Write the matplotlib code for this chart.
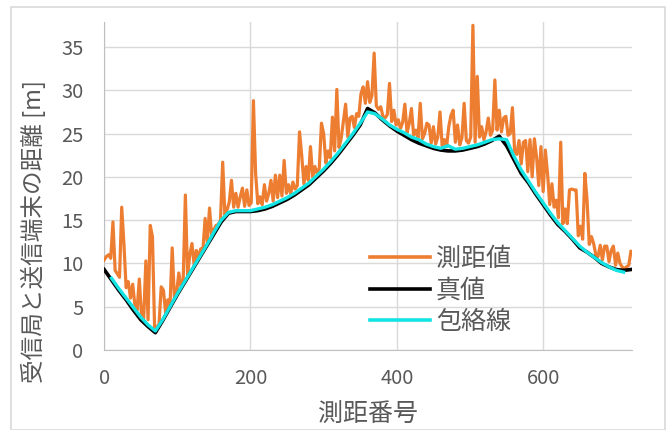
import numpy as np
import matplotlib
matplotlib.use("Agg")
import matplotlib.pyplot as plt
from matplotlib.patches import Rectangle

plt.rcParams['font.family'] = ['Noto Sans CJK JP', 'DejaVu Sans']

# 測距値 (3サンプルごと, 0〜720)
meas_step = 3
measured = [
    10.4, 10.8, 11.0, 10.6, 14.8, 9.2, 8.8, 8.4, 16.5, 12.3,
    7.2, 7.9, 6.0, 7.6, 5.2, 4.6, 8.2, 4.0, 3.6, 10.3,
    3.5, 14.4, 13.1, 2.3, 2.6, 3.0, 7.3, 6.9, 4.3, 5.8,
    5.2, 11.8, 6.0, 6.6, 8.9, 7.4, 8.0, 17.9, 8.6, 11.0,
    12.3, 9.8, 11.5, 10.6, 11.7, 11.6, 15.2, 12.4, 16.4, 13.2,
    13.9, 14.4, 14.5, 15.0, 21.7, 15.6, 16.2, 17.1, 19.6, 16.5,
    18.1, 16.5, 17.7, 18.7, 16.6, 18.5, 16.7, 17.0, 28.8, 20.4,
    16.9, 17.7, 16.8, 19.1, 17.2, 18.1, 19.6, 17.2, 20.2, 17.6,
    20.2, 17.8, 21.9, 18.1, 19.1, 18.0, 19.4, 18.6, 19.0, 25.2,
    22.5, 19.2, 21.2, 19.6, 23.5, 20.0, 21.2, 20.4, 21.0, 26.2,
    25.0, 21.6, 23.0, 22.2, 26.9, 23.0, 30.1, 23.4, 24.5, 26.5,
    28.4, 24.6, 26.8, 27.0, 25.7, 27.3, 27.0, 29.6, 30.4, 28.5,
    31.0, 28.6, 29.4, 34.3, 28.2, 27.8, 28.1, 27.0, 26.8, 27.2,
    30.8, 26.4, 27.7, 26.0, 26.6, 25.6, 26.3, 28.4, 25.1, 26.2,
    27.9, 24.8, 25.4, 24.5, 28.5, 24.4, 25.0, 26.2, 26.0, 23.9,
    25.8, 23.8, 24.6, 27.5, 23.6, 24.3, 23.5, 25.8, 27.1, 27.7,
    24.0, 26.0, 23.7, 24.5, 28.5, 24.2, 23.9, 24.6, 37.5, 24.0,
    31.6, 24.6, 25.8, 24.3, 25.2, 26.8, 24.8, 25.4, 31.2, 25.4,
    27.7, 25.2, 26.8, 27.0, 24.8, 25.0, 28.0, 23.0, 22.6, 24.2,
    21.5, 24.0, 24.2, 20.6, 24.3, 20.0, 24.4, 22.3, 19.0, 23.5,
    18.3, 23.1, 20.4, 16.8, 19.2, 16.5, 17.3, 15.3, 24.0, 14.6,
    16.3, 14.6, 18.5, 18.6, 18.5, 18.5, 13.2, 14.3, 12.8, 20.4,
    17.3, 12.2, 13.1, 12.3, 11.0, 10.8, 12.1, 10.4, 12.0, 12.0,
    10.2, 11.5, 12.0, 9.8, 11.2, 10.0, 9.6, 9.4, 9.6, 9.8,
    11.4,
]

# 真値 (10サンプルごと, 0〜720)
true_step = 10
true_val = [
    9.3, 8.1, 6.9, 5.8, 4.6, 3.5, 2.7, 2.0, 3.4, 4.9,
    6.4, 7.8, 9.2, 10.6, 12.0, 13.4, 14.8, 15.8, 16.0, 16.0,
    16.0, 16.1, 16.3, 16.6, 17.0, 17.4, 17.9, 18.5, 19.1, 19.9,
    20.7, 21.6, 22.6, 23.7, 24.8, 26.0, 27.9, 27.4, 26.6, 25.9,
    25.3, 24.8, 24.3, 23.9, 23.6, 23.3, 23.1, 23.0, 23.0, 23.1,
    23.3, 23.5, 23.8, 24.2, 24.7, 23.6, 22.0, 20.4, 19.3, 18.0,
    16.8, 15.6, 14.5, 13.7, 12.8, 11.8, 11.3, 10.7, 10.0, 9.6,
    9.3, 9.2, 9.3,
]

# 包絡線 (10〜710)
env_start = 10
envelope = [
    8.3, 7.1, 6.0, 4.9, 3.8, 2.9, 2.2, 3.5, 5.0,
    6.5, 7.9, 9.3, 10.7, 12.1, 13.6, 15.0, 15.9, 16.1, 16.1,
    16.1, 16.3, 16.5, 16.8, 17.2, 17.6, 18.1, 18.7, 19.3, 20.1,
    20.9, 21.8, 22.8, 23.9, 25.0, 26.2, 27.5, 27.3, 26.7, 26.0,
    25.5, 25.1, 24.6, 24.3, 23.8, 23.5, 23.3, 23.6, 23.2, 23.3,
    23.5, 23.7, 24.0, 24.3, 24.4, 24.3, 22.4, 20.8, 19.5, 18.2,
    17.0, 15.8, 14.7, 13.8, 12.9, 12.0, 11.3, 10.7, 10.1, 9.6,
    9.2, 9.0,
]

x_meas = np.arange(len(measured)) * meas_step
x_true = np.arange(len(true_val)) * true_step
x_env = env_start + np.arange(len(envelope)) * true_step

txt_color = '#595959'
grid_color = '#D9D9D9'

fig = plt.figure(figsize=(6.72, 4.30), dpi=100)
fig.patches.append(Rectangle((0.016, 0.0), 0.974, 0.984, transform=fig.transFigure,
                             fill=False, edgecolor=grid_color, linewidth=1.2))
ax = fig.add_axes([0.155, 0.186, 0.785, 0.763])

ax.plot(x_meas, measured, color='#ED7D31', linewidth=2.3, label='測距値', zorder=3)
ax.plot(x_true, true_val, color='black', linewidth=2.6, label='真値', zorder=4)
ax.plot(x_env, envelope, color='#14E3E3', linewidth=2.4, label='包絡線', zorder=5)

ax.set_xlim(0, 721)
ax.set_ylim(0, 37.9)
ax.set_xticks([0, 200, 400, 600])
ax.set_yticks(range(0, 40, 5))
ax.grid(True, color=grid_color, linewidth=1.0)
ax.set_axisbelow(True)
for side in ['top', 'right']:
    ax.spines[side].set_visible(False)
for side in ['left', 'bottom']:
    ax.spines[side].set_color('#BFBFBF')
ax.tick_params(length=0, labelsize=14.5, labelcolor=txt_color)
ax.tick_params(axis='x', pad=13)
ax.tick_params(axis='y', pad=15)

ax.set_xlabel('測距番号', fontsize=18, color=txt_color)
ax.xaxis.set_label_coords(0.5, -0.158)
ax.set_ylabel('受信局と送信端末の距離 [m]', fontsize=17, color=txt_color)
ax.yaxis.set_label_coords(-0.11, 0.36)

leg = ax.legend(loc='upper left', bbox_to_anchor=(0.47, 0.37), frameon=False,
                fontsize=18, handlelength=2.4, handletextpad=0.25,
                labelspacing=0.22, borderpad=0.2)
for t in leg.get_texts():
    t.set_color(txt_color)
for h in leg.get_lines():
    h.set_linewidth(2.6)

fig.savefig('out.png', dpi=100)
